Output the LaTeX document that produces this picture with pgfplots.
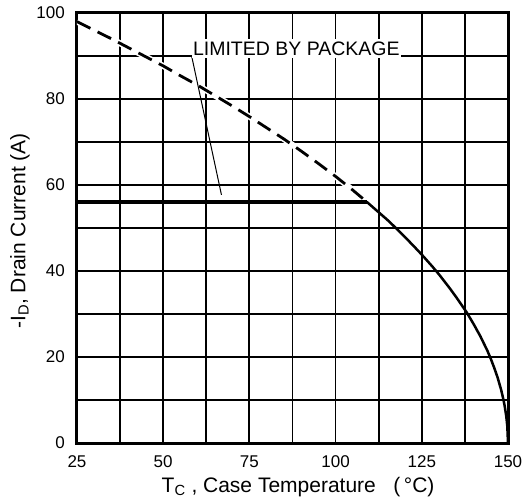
\documentclass[border=0pt]{standalone}
\usepackage{fontspec}
\setmainfont{Liberation Sans}
\usepackage{pgfplots}
\pgfplotsset{compat=1.18}
\begin{document}
\begin{tikzpicture}
\begin{axis}[
  scale only axis,
  width=431pt, height=430pt,
  at={(0,0)}, anchor=south west,
  xmin=25, xmax=150, ymin=0, ymax=100,
  xtick={25,50,75,100,125,150},
  ytick={0,20,40,60,80,100},
  minor x tick num=1, minor y tick num=1,
  major tick length=0pt, minor tick length=0pt,
  grid=both,
  major grid style={black, line width=1.8pt},
  minor grid style={black, line width=1.8pt},
  axis line style={black, line width=3pt},
  /pgf/number format/assume math mode=true,
  tick label style={font=\fontsize{17}{18}\selectfont, text=black},
  yticklabel style={anchor=east, inner sep=0pt, xshift=-12pt},
  xticklabel style={anchor=base, inner sep=0pt, yshift=-24pt},
  xlabel={T\textsubscript{C} , Case Temperature \ \ (\,°C)},
  ylabel={-I\textsubscript{D}, Drain Current (A)},
  label style={font=\fontsize{21}{23}\selectfont},
  x label style={at={(axis description cs:0.513,0)}, anchor=base, yshift=-49pt},
  y label style={at={(axis description cs:-0.1323,0.493)}, anchor=center},
]
% white halo under the dashed part
\addplot[white, line width=6pt, forget plot] coordinates {
(25,98.0)(30,96.0)(35,94.0)(40,91.9)(45,89.8)(50,87.7)(55,85.4)(60,83.2)(65,80.8)(70,78.4)(75,75.9)(80,73.3)(85,70.7)(90,67.9)(95,65.0)(100,62.0)(105,58.8)(109,56.1)};
\addplot[black, line width=2.8pt, dash pattern=on 15pt off 8pt] coordinates {
(25,98.0)(30,96.0)(35,94.0)(40,91.9)(45,89.8)(50,87.7)(55,85.4)(60,83.2)(65,80.8)(70,78.4)(75,75.9)(80,73.3)(85,70.7)(90,67.9)(95,65.0)(100,62.0)(105,58.8)(109,56.1)};
\addplot[black, line width=2.5pt, line join=round] coordinates {
(109,56.1)(112,54.0)(115,51.9)(118,49.6)(120,48.0)(123,45.5)(125,43.8)(128,41.1)(130,39.2)(133,36.1)(135,33.9)(138,30.4)(140,27.7)(142,24.8)(144,21.5)(145,19.6)(146,17.5)(147,15.2)(148,12.4)(148.5,10.7)(149,8.8)(149.5,6.2)(149.8,3.9)(150,0)};
\addplot[black, line width=3.5pt] coordinates {(25,56)(109,56)};
\addplot[black, line width=1pt] coordinates {(58.3,89.8)(66.9,57.7)};
\node[fill=white, anchor=base west, inner xsep=1pt, inner ysep=3pt,
      font=\fontsize{19.5}{20}\selectfont] at (axis cs:58.3,90.2) {LIMITED BY PACKAGE};
\end{axis}
\pgfresetboundingbox
\path (-77pt,-61pt) rectangle (446pt,443pt);
\end{tikzpicture}
\end{document}
